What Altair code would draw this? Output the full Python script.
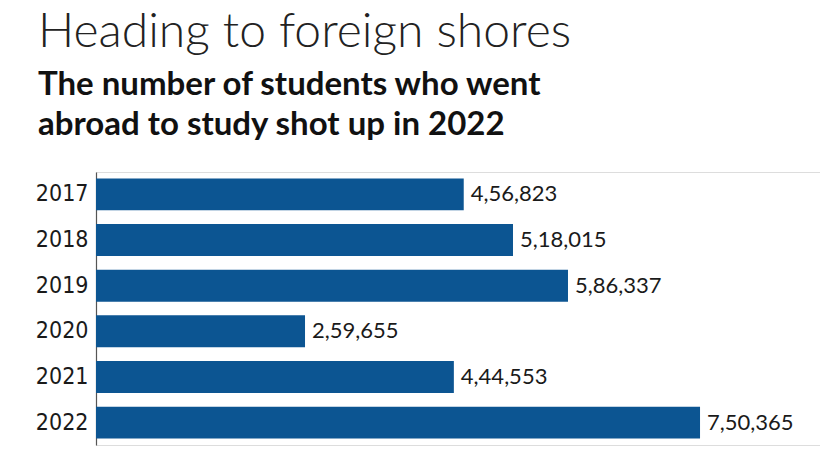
import altair as alt
import pandas as pd

years = ["2017", "2018", "2019", "2020", "2021", "2022"]
students = [456823, 518015, 586337, 259655, 444553, 750365]


def indian_format(n):
    s = str(n)
    if len(s) <= 3:
        return s
    last3 = s[-3:]
    rest = s[:-3]
    groups = []
    while len(rest) > 2:
        groups.insert(0, rest[-2:])
        rest = rest[:-2]
    if rest:
        groups.insert(0, rest)
    return ",".join(groups) + "," + last3


df = pd.DataFrame({
    "year": years,
    "students": students,
    "label": [indian_format(v) for v in students],
})

base = alt.Chart(df).encode(
    y=alt.Y("year:N", sort=years, title=None,
            scale=alt.Scale(paddingInner=0.3, paddingOuter=0.14),
            axis=alt.Axis(ticks=False, domainColor="#555555", domainWidth=1.2,
                          labelFont="DejaVu Sans Condensed", labelFontSize=23,
                          labelColor="#1a1a1a", labelPadding=8)),
    x=alt.X("students:Q", title=None, axis=None,
            scale=alt.Scale(domain=[0, 899400], nice=False)),
)

bars = base.mark_bar(color="#0c5592")
text = base.mark_text(align="left", baseline="middle", dx=7, font="Lato",
                      fontSize=22, color="#1a1a1a").encode(text="label:N")

chart = (bars + text).properties(
    width=724,
    height=273,
    title=alt.TitleParams(
        text="Heading to foreign shores",
        subtitle=["The number of students who went", "abroad to study shot up in 2022"],
        anchor="start",
        frame="group",
        dx=-58,
        font="Lato",
        fontWeight=300,
        fontSize=48,
        color="#222222",
        subtitleFont="Lato",
        subtitleFontWeight="bold",
        subtitleFontSize=33,
        subtitleColor="#111111",
        subtitleLineHeight=40,
        subtitlePadding=12,
        offset=30,
    ),
    autosize=alt.AutoSizeParams(type="none"),
    padding={"left": 96, "top": 172, "right": 0, "bottom": 7},
).configure_view(stroke=None).configure(background="white")

chart.save("out.html", embed_options={"renderer": "svg", "actions": False})
